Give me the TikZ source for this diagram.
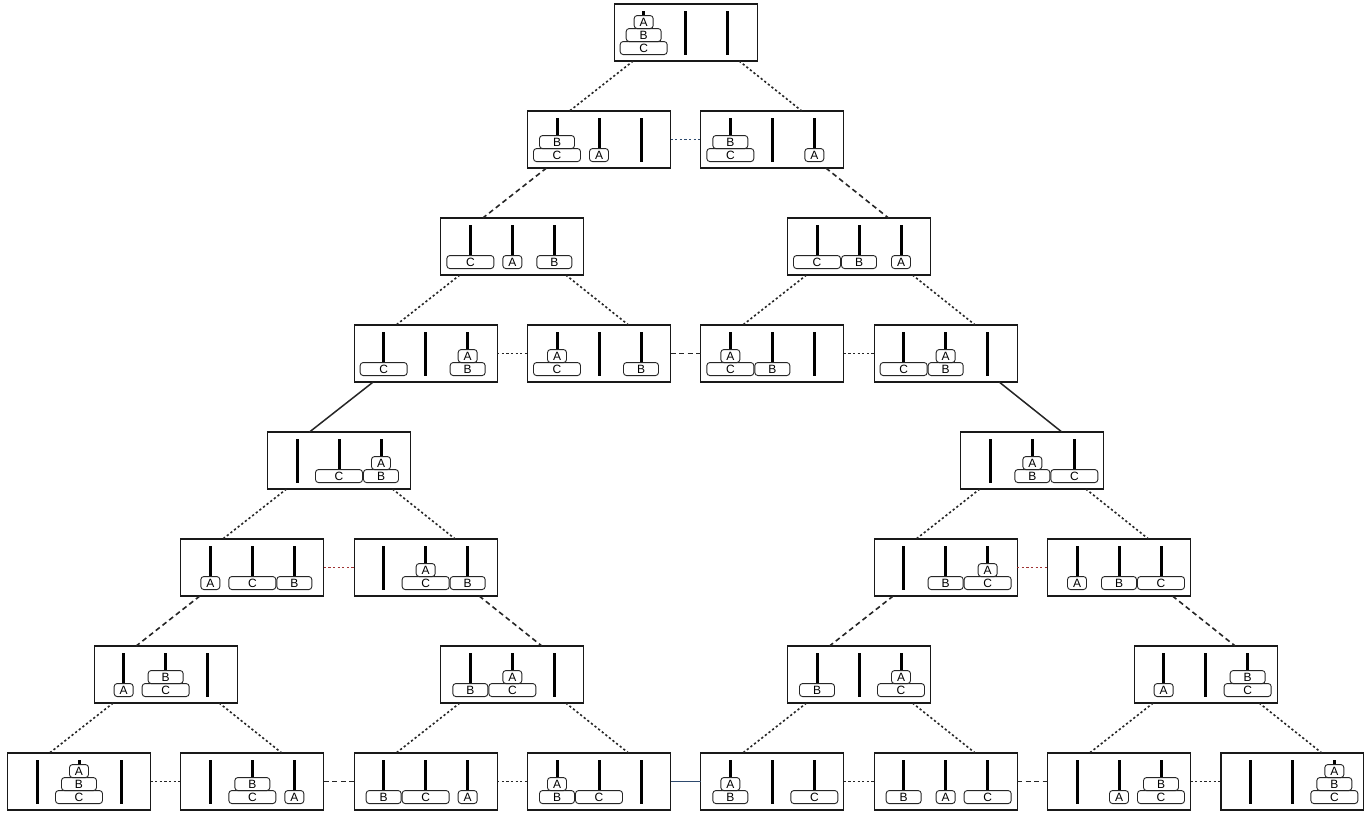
\documentclass[tikz,border=0pt]{standalone}
\usepackage{fontspec}
\setmainfont{Liberation Sans}
\usetikzlibrary{calc}
\def\dwA{19pt}\def\dwB{35pt}\def\dwC{47pt}
\definecolor{linkred}{HTML}{A03434}
\definecolor{linkblue}{HTML}{2E4A6E}
\tikzset{
  statebox/.style={draw=black!90, line width=1.3pt, minimum width=143pt, minimum height=57pt, inner sep=0pt, outer sep=0pt, fill=white},
  pegline/.style={line width=3pt, black},
  disk/.style={draw=black!85, line width=0.9pt, fill=white, rounded corners=3pt, minimum height=13pt, inner sep=0pt, font=\fontsize{12}{12}\selectfont, anchor=south},
  movea/.style={line width=1.6pt, black!85, dash pattern=on 2.2pt off 2.4pt},
  moveb/.style={line width=1.6pt, black!85, dash pattern=on 5pt off 3.5pt},
  movec/.style={line width=1.5pt, black!85},
}
\newcommand\hstate[4]{%
  \node[statebox] (#1) at ({79+173.333*#2},{32.5+107*#3}) {};
  \foreach \pg in {-42,0,42}{\draw[pegline] ($(#1.north)+(\pg,7)$) -- ($(#1.north)+(\pg,51)$);}
  \foreach \l/\p/\h in {#4}{%
    \node[disk, minimum width=\csname dw\l\endcsname] (#1-\l) at ($(#1.north)+({42*(\p-1)},{51-13*\h})$) {\l};
  }%
}
\newcommand\lchild[3]{\draw[#1] ($(#2.south west)+(19,0)$) -- ($(#3.north west)+(42,0)$);}
\newcommand\rchild[3]{\draw[#1] ($(#2.south east)+(-18,0)$) -- ($(#3.north east)+(-42,0)$);}
\newcommand\hlink[3]{\draw[#1] (#2.east) -- (#3.west);}
\begin{document}
\begin{tikzpicture}[x=1pt,y=-1pt]
\useasboundingbox[fill=white] (0,0) rectangle (1364,814);
% states
\hstate{s0}{3.5}{0}{C/0/0,B/0/1,A/0/2}
\hstate{s1a}{3}{1}{C/0/0,B/0/1,A/1/0}
\hstate{s1b}{4}{1}{C/0/0,B/0/1,A/2/0}
\hstate{s2a}{2.5}{2}{C/0/0,A/1/0,B/2/0}
\hstate{s2b}{4.5}{2}{C/0/0,B/1/0,A/2/0}
\hstate{s3a}{2}{3}{C/0/0,B/2/0,A/2/1}
\hstate{s3b}{3}{3}{C/0/0,A/0/1,B/2/0}
\hstate{s3c}{4}{3}{C/0/0,A/0/1,B/1/0}
\hstate{s3d}{5}{3}{C/0/0,B/1/0,A/1/1}
\hstate{s4a}{1.5}{4}{C/1/0,B/2/0,A/2/1}
\hstate{s4b}{5.5}{4}{B/1/0,A/1/1,C/2/0}
\hstate{s5a}{1}{5}{A/0/0,C/1/0,B/2/0}
\hstate{s5b}{2}{5}{C/1/0,A/1/1,B/2/0}
\hstate{s5c}{5}{5}{B/1/0,C/2/0,A/2/1}
\hstate{s5d}{6}{5}{A/0/0,B/1/0,C/2/0}
\hstate{s6a}{0.5}{6}{A/0/0,C/1/0,B/1/1}
\hstate{s6b}{2.5}{6}{B/0/0,C/1/0,A/1/1}
\hstate{s6c}{4.5}{6}{B/0/0,C/2/0,A/2/1}
\hstate{s6d}{6.5}{6}{A/0/0,C/2/0,B/2/1}
\hstate{s7a}{0}{7}{C/1/0,B/1/1,A/1/2}
\hstate{s7b}{1}{7}{C/1/0,B/1/1,A/2/0}
\hstate{s7c}{2}{7}{B/0/0,C/1/0,A/2/0}
\hstate{s7d}{3}{7}{B/0/0,A/0/1,C/1/0}
\hstate{s7e}{4}{7}{B/0/0,A/0/1,C/2/0}
\hstate{s7f}{5}{7}{B/0/0,A/1/0,C/2/0}
\hstate{s7g}{6}{7}{A/1/0,C/2/0,B/2/1}
\hstate{s7h}{7}{7}{C/2/0,B/2/1,A/2/2}
% moves of disk A (dotted)
\lchild{movea}{s0}{s1a}
\rchild{movea}{s0}{s1b}
\hlink{movea,linkblue}{s1a}{s1b}
\lchild{movea}{s2a}{s3a}
\rchild{movea}{s2a}{s3b}
\lchild{movea}{s2b}{s3c}
\rchild{movea}{s2b}{s3d}
\hlink{movea}{s3a}{s3b}
\hlink{movea}{s3c}{s3d}
\lchild{movea}{s4a}{s5a}
\rchild{movea}{s4a}{s5b}
\lchild{movea}{s4b}{s5c}
\rchild{movea}{s4b}{s5d}
\hlink{movea,linkred}{s5a}{s5b}
\hlink{movea,linkred}{s5c}{s5d}
\lchild{movea}{s6a}{s7a}
\rchild{movea}{s6a}{s7b}
\lchild{movea}{s6b}{s7c}
\rchild{movea}{s6b}{s7d}
\lchild{movea}{s6c}{s7e}
\rchild{movea}{s6c}{s7f}
\lchild{movea}{s6d}{s7g}
\rchild{movea}{s6d}{s7h}
\hlink{movea}{s7a}{s7b}
\hlink{movea}{s7c}{s7d}
\hlink{movea}{s7e}{s7f}
\hlink{movea}{s7g}{s7h}
% moves of disk B (dashed)
\lchild{moveb}{s1a}{s2a}
\rchild{moveb}{s1b}{s2b}
\hlink{moveb}{s3b}{s3c}
\lchild{moveb}{s5a}{s6a}
\rchild{moveb}{s5b}{s6b}
\lchild{moveb}{s5c}{s6c}
\rchild{moveb}{s5d}{s6d}
\hlink{moveb}{s7b}{s7c}
\hlink{moveb}{s7f}{s7g}
% moves of disk C (solid)
\lchild{movec}{s3a}{s4a}
\rchild{movec}{s3d}{s4b}
\hlink{movec,linkblue}{s7d}{s7e}
\end{tikzpicture}
\end{document}
